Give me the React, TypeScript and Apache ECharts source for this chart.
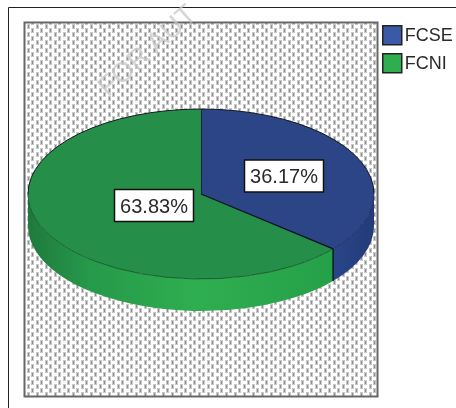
import React, { useEffect, useRef } from "react";
import * as echarts from "echarts";

const categories = ["FCSE", "FCNI"];
const shares = [36.17, 63.83];
const percentLabels = ["36.17%", "63.83%"];
const topColors = ["#2b4586", "#258f49"];
const legendColors = ["#3a5aa8", "#2fae50"];
const frontEdgeColors = ["rgba(20,35,80,0.7)", "rgba(15,70,35,0.7)"];

const CX = 201, CY = 194, RX = 173, RY = 85, DEPTH = 32;

function makePattern(): string {
  const c = document.createElement("canvas");
  c.width = 9; c.height = 8;
  const g = c.getContext("2d")!;
  g.fillStyle = "#ffffff"; g.fillRect(0, 0, 9, 8);
  const mark = (x: number, y: number) => {
    g.fillStyle = "#c8c8c8"; g.fillRect(x, y, 3, 5);
    g.fillStyle = "#8e8e8e"; g.fillRect(x + 1, y + 1, 1, 3);
  };
  mark(0, 0);
  mark(4, 4);
  g.fillStyle = "#c8c8c8"; g.fillRect(4, 0, 3, 1);
  return c.toDataURL();
}

const pt = (deg: number, dy = 0) => {
  const a = (deg * Math.PI) / 180;
  return [CX + RX * Math.sin(a), CY - RY * Math.cos(a) + dy];
};

const arc = (a: number, b: number) => {
  const p = pt(a), q = pt(b);
  return `M${p[0]} ${p[1]}A${RX} ${RY} 0 ${b - a > 180 ? 1 : 0} 1 ${q[0]} ${q[1]}`;
};

export default function App() {
  const ref = useRef<HTMLDivElement>(null);
  useEffect(() => {
    const chart = echarts.init(ref.current!, undefined, { renderer: "svg" });
    const total = shares.reduce((a, b) => a + b, 0);
    const sideGradients = [
      [{ color: "#2a4689", offset: 0 }, { color: "#223b78", offset: 1 }],
      [
        { color: "#1f7a3c", offset: 0 },
        { color: "#26994a", offset: 0.2 },
        { color: "#2fae50", offset: 0.55 },
        { color: "#2aa64c", offset: 0.8 },
        { color: "#24a04a", offset: 1 },
      ],
    ];
    const labelCentres = [[284, 176], [154, 205.5]];
    let start = 0;
    const series = categories.map((name, i) => {
      const from = start;
      const to = start + (shares[i] / total) * 360;
      start = to;
      return {
        type: "custom",
        name,
        coordinateSystem: "none",
        data: [shares[i]],
        z: i === 0 ? 3 : 4,
        renderItem: () => {
          const a = pt(from), b = pt(to);
          const topPath = `M${CX} ${CY}L${a[0]} ${a[1]}A${RX} ${RY} 0 ${to - from > 180 ? 1 : 0} 1 ${b[0]} ${b[1]}Z`;
          const s0 = Math.max(from, 90), s1 = Math.min(to, 270);
          const p0 = pt(s0), p1 = pt(s1), q1 = pt(s1, DEPTH), q0 = pt(s0, DEPTH);
          const sidePath = `M${p0[0]} ${p0[1]}A${RX} ${RY} 0 0 1 ${p1[0]} ${p1[1]}L${q1[0]} ${q1[1]}A${RX} ${RY} 0 0 0 ${q0[0]} ${q0[1]}Z`;
          const backArc = i === 0 ? arc(from, 90) : arc(270, to);
          const [lx, ly] = labelCentres[i];
          return {
            type: "group",
            children: [
              {
                type: "path",
                shape: { pathData: sidePath },
                style: { fill: new echarts.graphic.LinearGradient(0, 0, 1, 0, sideGradients[i]), stroke: "none" },
              },
              { type: "path", shape: { pathData: topPath }, style: { fill: topColors[i], stroke: "none" } },
              { type: "path", shape: { pathData: arc(s0, s1) }, style: { fill: "none", stroke: frontEdgeColors[i], lineWidth: 1 } },
              { type: "path", shape: { pathData: backArc }, style: { fill: "none", stroke: "#101820", lineWidth: 1 } },
              {
                type: "path",
                shape: { pathData: `M${a[0]} ${a[1]}L${CX} ${CY}` },
                style: { fill: "none", stroke: "#0a1020", lineWidth: 1.3 },
              },
              {
                type: "rect",
                z2: 10,
                shape: { x: lx - 39.5, y: ly - 16, width: 79, height: 32 },
                style: { fill: "#ffffff", stroke: "#111111", lineWidth: 1.5 },
              },
              {
                type: "text",
                z2: 11,
                style: {
                  x: lx, y: ly, text: percentLabels[i],
                  fill: "#2a2a2a", font: "20px 'Liberation Sans'", align: "center", verticalAlign: "middle",
                },
              },
            ],
          };
        },
      };
    });
    const edgeAngle = (shares[0] / total) * 360;
    const edge = pt(edgeAngle);
    chart.setOption({
      animation: false,
      backgroundColor: "#ffffff",
      legend: {
        left: 382, top: 25, orient: "vertical", padding: 0,
        itemWidth: 19, itemHeight: 19, itemGap: 7.5,
        selectedMode: false,
        textStyle: { color: "#2a2a2a", fontFamily: "'Liberation Sans'", fontSize: 18, padding: [0, 0, 0, -2] },
        data: categories.map((name, i) => ({
          name, icon: "rect",
          itemStyle: { color: legendColors[i], borderColor: "#222222", borderWidth: 1.5 },
        })),
      },
      graphic: [
        { type: "polyline", silent: true, shape: { points: [[8.5, 408], [8.5, 7.5], [456, 7.5]] }, style: { stroke: "#222222", lineWidth: 1, fill: "none" }, z: 0 },
        {
          type: "rect", silent: true, z: 1,
          shape: { x: 24.5, y: 22.5, width: 353, height: 374 },
          style: { fill: { image: makePattern(), repeat: "repeat" } as any, stroke: "#666666", lineWidth: 2 },
        },
        {
          type: "text", silent: true, z: 2,
          x: 111, y: 101, rotation: (42 * Math.PI) / 180,
          style: { x: 0, y: 0, text: "FOR AUT", fill: "rgba(200,200,200,0.75)", font: "28px 'Liberation Sans'", align: "left", verticalAlign: "bottom" },
        },
        { type: "line", silent: true, z: 9, shape: { x1: edge[0], y1: edge[1], x2: edge[0], y2: edge[1] + DEPTH }, style: { stroke: "#0a1a1a", lineWidth: 1.5 } },
      ],
      series,
    });
    return () => chart.dispose();
  }, []);
  return <div ref={ref} style={{ position: "absolute", left: 0, top: 0, width: 456, height: 408, filter: "blur(0.4px)" }} />;
}
